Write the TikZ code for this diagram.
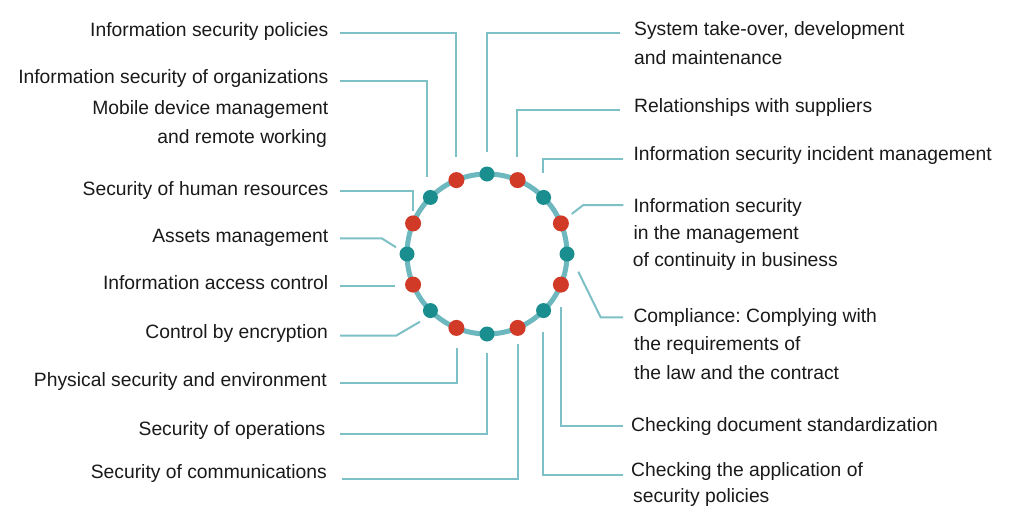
\documentclass[tikz,border=0pt]{standalone}
\usepackage{fontspec}
\setmainfont{Liberation Sans}
\frenchspacing
\definecolor{ringc}{HTML}{6DB8BE}
\definecolor{tealdot}{HTML}{1A8E8E}
\definecolor{reddot}{HTML}{D23A28}
\definecolor{leadc}{HTML}{7DC0C5}
\definecolor{txt}{HTML}{1A1A1A}
\tikzset{
  lbl/.style={font=\fontsize{19.3}{23}\selectfont, inner sep=0pt, text=txt},
  lft/.style={lbl, anchor=base east},
  rgt/.style={lbl, anchor=base west},
  tdot/.style={circle, fill=tealdot, minimum size=15pt, inner sep=0pt},
  rdot/.style={circle, fill=reddot, minimum size=16pt, inner sep=0pt},
  lead/.style={draw=leadc, line width=2pt},
  ringline/.style={draw=ringc, line width=5pt}
}
\begin{document}
\begin{tikzpicture}[x=1pt,y=-1pt]
\useasboundingbox (0,0) rectangle (1010,520);
\fill[white] (0,0) rectangle (1010,520);
% ring
\coordinate (ctr) at (487,254);
\draw[ringline] (ctr) circle[radius=80pt];
\foreach \k in {0,2,...,14} {
  \node[tdot] (d\k) at ({487+80*cos(90-22.5*\k)},{254-80*sin(90-22.5*\k)}) {};
}
\foreach \k in {1,3,...,15} {
  \node[rdot] (d\k) at ({487+80*cos(90-22.5*\k)},{254-80*sin(90-22.5*\k)}) {};
}
% left labels
\node[lft] (l1) at (328.5,36) {Information security policies};
\node[lft] (l2) at (328.5,83.3) {Information security of organizations};
\node[lft] (l3a) at (328.5,114) {Mobile device management};
\node[lft] (l3b) at (327,143) {and remote working};
\node[lft] (l4) at (328.5,195) {Security of human resources};
\node[lft] (l5) at (328.5,242.7) {Assets management};
\node[lft] (l6) at (328.5,289.3) {Information access control};
\node[lft] (l7) at (328,338.3) {Control by encryption};
\node[lft] (l8) at (327,386.7) {Physical security and environment};
\node[lft] (l9) at (325.5,435) {Security of operations};
\node[lft] (l10) at (327,478.3) {Security of communications};
% right labels
\node[rgt] (r1a) at (634,35) {System take-over, development};
\node[rgt] (r1b) at (634,64.3) {and maintenance};
\node[rgt] (r2) at (634,112.7) {Relationships with suppliers};
\node[rgt] (r3) at (633.3,160) {Information security incident management};
\node[rgt] (r4a) at (633.3,212.3) {Information security};
\node[rgt] (r4b) at (633.3,239.3) {in the management};
\node[rgt] (r4c) at (632.7,266.7) {of continuity in business};
\node[rgt] (r5a) at (633.3,322.7) {Compliance: Complying with};
\node[rgt] (r5b) at (634,350.7) {the requirements of};
\node[rgt] (r5c) at (634,379) {the law and the contract};
\node[rgt] (r6) at (631,431.7) {Checking document standardization};
\node[rgt] (r7a) at (631,476.7) {Checking the application of};
\node[rgt] (r7b) at (633,502.7) {security policies};
% leader end coordinates
\coordinate (a1) at (340,33.3);   \coordinate (b1) at (456,157);
\coordinate (a2) at (340,80.7);   \coordinate (b2) at (427.3,177);
\coordinate (a4) at (340,190.7);  \coordinate (b4) at (412.7,211);
\coordinate (a5) at (340,238.3);  \coordinate (b5) at (396,247.3);
\coordinate (a6) at (340,285.7);  \coordinate (b6) at (395,285.7);
\coordinate (a7) at (340,335.7);  \coordinate (b7) at (420,321.7);
\coordinate (a8) at (340,383.3);  \coordinate (b8) at (456.7,348.3);
\coordinate (a9) at (340,434);    \coordinate (b9) at (487.3,352.7);
\coordinate (a10) at (341.7,479); \coordinate (b10) at (517.7,344.3);
\coordinate (c1) at (620,33.3);   \coordinate (e1) at (486.7,152);
\coordinate (c2) at (620,110);    \coordinate (e2) at (517.3,157.3);
\coordinate (c3) at (623,159);    \coordinate (e3) at (543.3,173);
\coordinate (c4) at (623.3,205);  \coordinate (e4) at (571.7,214);
\coordinate (c5) at (623,317.3);  \coordinate (e5) at (578.3,271.7);
\coordinate (c6) at (622.7,426);  \coordinate (e6) at (560.7,307.3);
\coordinate (c7) at (623,475);    \coordinate (e7) at (543.3,331.7);
% left leaders
\draw[lead] (a1) -| (b1);
\draw[lead] (a2) -| (b2);
\draw[lead] (a4) -| (b4);
\draw[lead] (a5) -- (381.7,238.3) -- (b5);
\draw[lead] (a6) -- (b6);
\draw[lead] (a7) -- (396,335.7) -- (b7);
\draw[lead] (a8) -| (b8);
\draw[lead] (a9) -| (b9);
\draw[lead] (a10) -| (b10);
% right leaders
\draw[lead] (c1) -| (e1);
\draw[lead] (c2) -| (e2);
\draw[lead] (c3) -| (e3);
\draw[lead] (c4) -- (583.3,205) -- (e4);
\draw[lead] (c5) -- (600.7,317.3) -- (e5);
\draw[lead] (c6) -| (e6);
\draw[lead] (c7) -| (e7);
\end{tikzpicture}
\end{document}
